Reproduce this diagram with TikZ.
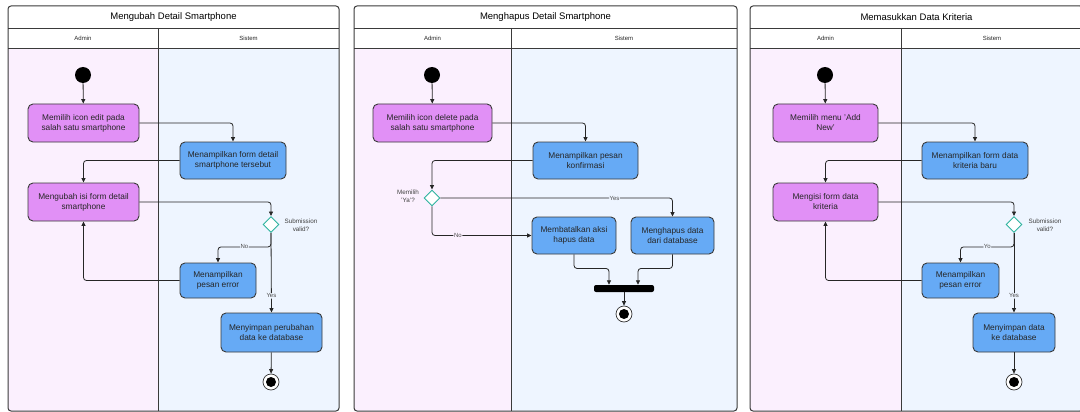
\documentclass[tikz,border=0pt]{standalone}
\usepackage{fontspec}
\setmainfont{Liberation Sans}
\usetikzlibrary{arrows.meta,shapes.geometric}

\definecolor{adminbg}{HTML}{FBF0FE}
\definecolor{sysbg}{HTML}{EEF5FF}
\definecolor{adminbox}{HTML}{E190F6}
\definecolor{sysbox}{HTML}{66AAF5}
\definecolor{framec}{HTML}{3A3A3A}
\definecolor{dectealc}{HTML}{2DB39E}

\tikzset{
  titletxt/.style={font=\fontsize{9.5}{11}\selectfont, text=black, inner sep=0pt},
  headtxt/.style={font=\fontsize{6}{7}\selectfont, text=black!85, inner sep=0pt},
  boxbase/.style={draw=framec, line width=0.9pt, rounded corners=5pt, align=center,
    font=\fontsize{8.3}{10}\selectfont, text=black!85, inner sep=0pt},
  abox/.style={boxbase, fill=adminbox},
  sbox/.style={boxbase, fill=sysbox},
  startst/.style={circle, fill=black, minimum size=16pt, inner sep=0pt},
  endst/.style={circle, draw=black!80, fill=white, line width=0.7pt, minimum size=16pt, inner sep=0pt,
    path picture={\fill[black] (path picture bounding box.center) circle (5pt);}},
  joinbar/.style={rectangle, rounded corners=2pt, fill=black, minimum width=60pt, minimum height=7pt, inner sep=0pt},
  decst/.style={diamond, draw=dectealc, fill=white, line width=0.9pt, minimum width=16pt, minimum height=16pt, inner sep=0pt},
  arr/.style={draw=black!85, line width=0.8pt, rounded corners=3pt, -{Triangle[length=4.5pt,width=4pt]}},
  lbl/.style={fill=sysbg, font=\fontsize{6}{6}\selectfont, inner sep=0.6pt, text=black!70},
  albl/.style={lbl, fill=adminbg},
  qtxt/.style={font=\fontsize{6.3}{8}\selectfont, align=center, text=black!75, inner sep=0pt},
}

% one swimlane panel: left x, lane divider x, right x, title, name prefix
\newcommand{\swimpanel}[5]{%
  \fill[adminbg] (#1,48) rectangle (#2,411);
  \fill[sysbg] (#2,48) rectangle (#3,411);
  \draw[framec, line width=0.8pt] (#1,28) -- (#3,28) (#1,48) -- (#3,48) (#2,28) -- (#2,411);
  \draw[framec, line width=1pt, rounded corners=3pt] (#1,6) rectangle (#3,411);
  \node[titletxt] (#5title) at ({(#1+#3)/2},17) {#4};
  \node[headtxt] (#5admin) at ({(#1+#2)/2},38) {Admin};
  \node[headtxt] (#5sistem) at ({(#2+#3)/2},38) {Sistem};
}

\begin{document}
\begin{tikzpicture}[x=1pt, y=-1pt]
\useasboundingbox (0,0) rectangle (1080,412);

% ---------- panels ----------
\swimpanel{8}{158}{339}{Mengubah Detail Smartphone}{pa}
\swimpanel{354}{511}{737}{Menghapus Detail Smartphone}{pb}
\swimpanel{750}{901}{1083}{Memasukkan Data Kriteria}{pc}

% ---------- Mengubah Detail Smartphone ----------
\node[startst] (s1) at (83,75) {};
\node[abox, minimum width=111pt, minimum height=38pt] (a1) at (83.5,123) {Memilih icon edit pada\\salah satu smartphone};
\node[sbox, minimum width=106pt, minimum height=37pt] (b1) at (233,160.5) {Menampilkan form detail\\smartphone tersebut};
\node[abox, minimum width=111pt, minimum height=38pt] (a2) at (83.5,202) {Mengubah isi form detail\\smartphone};
\node[decst] (d1) at (271,224.5) {};
\node[qtxt] (q1) at (301,225.5) {Submission\\valid?};
\node[sbox, minimum width=76pt, minimum height=35pt] (e1) at (218,280.5) {Menampilkan\\pesan error};
\node[sbox, minimum width=101pt, minimum height=39pt] (f1) at (271.5,332.5) {Menyimpan perubahan\\data ke database};
\node[endst] (z1) at (271,382) {};

\draw[arr] (s1) -- (a1);
\draw[arr] (a1.east) -| (b1.north);
\draw[arr] (b1.west) -| (a2.north);
\draw[arr] (a2.east) -| (d1.north);
\draw[arr] (d1.south) -- ++(0,14) -| node[lbl, pos=0.25] {No} (e1.north);
\draw[arr] (d1.south) -- node[lbl, pos=0.79] {Yes} (f1.north);
\draw[arr] (e1.west) -| (a2.south);
\draw[arr] (f1) -- (z1);

% ---------- Menghapus Detail Smartphone ----------
\node[startst] (s2) at (432,75) {};
\node[abox, minimum width=119pt, minimum height=38pt] (a3) at (432.5,123) {Memilih icon delete pada\\salah satu smartphone};
\node[sbox, minimum width=105pt, minimum height=37pt] (b3) at (585.5,160.5) {Menampilkan pesan\\konfirmasi};
\node[decst] (d2) at (432,198) {};
\node[qtxt] (q2) at (408,196.5) {Memilih\\'Ya'?};
\node[sbox, minimum width=84pt, minimum height=37pt] (b4) at (574,235.5) {Membatalkan aksi\\hapus data};
\node[sbox, minimum width=83pt, minimum height=37pt] (b5) at (672.5,235.5) {Menghapus data\\dari database};
\node[joinbar] (bar) at (624,288.5) {};
\node[endst] (z2) at (624,314) {};

\draw[arr] (s2) -- (a3);
\draw[arr] (a3.east) -| (b3.north);
\draw[arr] (b3.west) -| (d2.north);
\draw[arr] (d2.east) -| node[lbl, pos=0.375] {Yes} (b5.north);
\draw[arr] (d2.south) |- node[albl, pos=0.63] {No} (b4.west);
\draw[arr] (b4.south) -- ++(0,14) -| ([xshift=-15pt]bar.north);
\draw[arr] (b5.south) -- ++(0,14) -| ([xshift=14pt]bar.north);
\draw[arr] (bar) -- (z2);

% ---------- Memasukkan Data Kriteria ----------
\node[startst] (s3) at (825,75) {};
\node[abox, minimum width=105pt, minimum height=38pt] (a4) at (825.5,123) {Memilih menu 'Add\\New'};
\node[sbox, minimum width=106pt, minimum height=37pt] (b6) at (975,160.5) {Menampilkan form data\\kriteria baru};
\node[abox, minimum width=105pt, minimum height=38pt] (a5) at (825.5,202) {Mengisi form data\\kriteria};
\node[decst] (d3) at (1014,224.5) {};
\node[qtxt] (q3) at (1045,225.5) {Submission\\valid?};
\node[sbox, minimum width=77pt, minimum height=35pt] (e2) at (960.5,280.5) {Menampilkan\\pesan error};
\node[sbox, minimum width=82pt, minimum height=39pt] (f2) at (1014,332.5) {Menyimpan data\\ke database};
\node[endst] (z3) at (1014,382) {};

\draw[arr] (s3) -- (a4);
\draw[arr] (a4.east) -| (b6.north);
\draw[arr] (b6.west) -| (a5.north);
\draw[arr] (a5.east) -| (d3.north);
\draw[arr] (d3.south) -- ++(0,14) -| node[lbl, pos=0.25] {Yo} (e2.north);
\draw[arr] (d3.south) -- node[lbl, pos=0.79] {Yes} (f2.north);
\draw[arr] (e2.west) -| (a5.south);
\draw[arr] (f2) -- (z3);
\end{tikzpicture}
\end{document}
